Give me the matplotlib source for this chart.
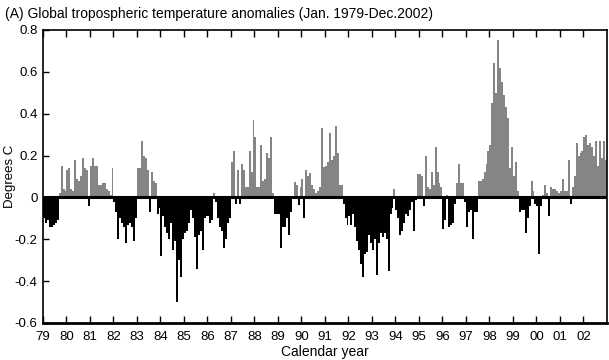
import numpy as np
import matplotlib
matplotlib.use("Agg")
import matplotlib.pyplot as plt

plt.rcParams['font.family'] = ['Liberation Sans', 'DejaVu Sans']

# monthly anomalies (deg C), one list per year
y1979 = [-0.10, -0.12, -0.11, -0.14, -0.14, -0.13, -0.12, -0.11, 0.02, 0.15, 0.04, 0.03]
y1980 = [0.13, 0.14, 0.04, 0.03, 0.18, 0.09, 0.08, 0.10, 0.19, 0.14, 0.13, -0.04]
y1981 = [0.15, 0.19, 0.15, 0.15, 0.06, 0.06, 0.07, 0.07, 0.04, 0.03, 0.01, 0.14]
y1982 = [-0.02, -0.07, -0.20, -0.10, -0.12, -0.14, -0.22, -0.13, -0.12, -0.14, -0.21, -0.10]
y1983 = [0.14, 0.14, 0.27, 0.20, 0.19, 0.13, -0.07, 0.12, 0.08, 0.07, -0.08, -0.05]
y1984 = [-0.28, -0.09, -0.14, -0.17, -0.20, -0.12, -0.25, -0.21, -0.50, -0.30, -0.38, -0.20]
y1985 = [-0.17, -0.16, -0.12, -0.06, -0.10, -0.19, -0.34, -0.18, -0.16, -0.25, -0.10, -0.09]
y1986 = [-0.09, -0.12, -0.11, 0.02, -0.02, -0.10, -0.14, -0.16, -0.24, -0.20, -0.12, -0.10]
y1987 = [0.17, 0.22, -0.03, 0.13, -0.03, 0.16, 0.13, 0.05, 0.05, 0.22, 0.12, 0.37]
y1988 = [0.29, 0.05, 0.05, 0.25, 0.08, 0.09, 0.21, 0.19, 0.29, 0.02, -0.08, -0.08]
y1989 = [-0.08, -0.24, -0.14, -0.14, -0.10, -0.18, -0.07, 0.00, 0.075, 0.06, -0.035, 0.05]
y1990 = [0.09, -0.10, 0.13, 0.10, 0.115, 0.06, 0.04, 0.02, 0.03, 0.05, 0.33, 0.145]
y1991 = [0.15, 0.17, 0.31, 0.18, 0.20, 0.34, 0.21, 0.06, 0.06, -0.03, -0.10, -0.13]
y1992 = [-0.09, -0.13, -0.08, -0.14, -0.21, -0.25, -0.32, -0.38, -0.27, -0.26, -0.18, -0.22]
y1993 = [-0.25, -0.20, -0.37, -0.22, -0.17, -0.19, -0.17, -0.20, -0.35, -0.08, -0.05, 0.04]
y1994 = [-0.06, -0.10, -0.18, -0.16, -0.12, -0.08, -0.09, -0.06, -0.02, -0.16, -0.01, 0.11]
y1995 = [0.11, 0.10, -0.04, 0.20, 0.05, 0.04, 0.12, 0.06, 0.24, 0.12, 0.07, 0.05]
y1996 = [-0.15, -0.11, 0.01, -0.14, -0.13, -0.12, -0.03, 0.07, 0.16, 0.07, 0.07, -0.02]
y1997 = [-0.14, -0.07, -0.06, -0.20, -0.07, -0.07, 0.08, 0.08, 0.09, 0.12, 0.16, 0.22]
y1998 = [0.25, 0.45, 0.64, 0.50, 0.75, 0.62, 0.55, 0.49, 0.43, 0.38, 0.14, 0.24]
y1999 = [0.10, 0.17, 0.03, -0.07, -0.06, -0.06, -0.17, -0.10, -0.04, 0.08, 0.03, -0.03]
y2000 = [-0.04, -0.27, -0.04, 0.01, 0.06, 0.02, -0.09, 0.05, 0.04, 0.04, 0.03, 0.02]
y2001 = [0.03, 0.09, 0.03, 0.03, 0.18, -0.03, 0.05, 0.10, 0.26, 0.20, 0.21, 0.22]
y2002 = [0.29, 0.30, 0.25, 0.26, 0.24, 0.20, 0.27, 0.15, 0.27, 0.19, 0.27, 0.18]

years = list(range(1979, 2003))
year_labels = [f"{y % 100:02d}" for y in years]
y_ticks = [-0.6, -0.4, -0.2, 0, 0.2, 0.4, 0.6, 0.8]
y_tick_labels = ["-0.6", "-0.4", "-0.2", "0", "0.2", "0.4", "0.6", "0.8"]

anom = np.concatenate([y1979, y1980, y1981, y1982, y1983, y1984, y1985, y1986,
                       y1987, y1988, y1989, y1990, y1991, y1992, y1993, y1994,
                       y1995, y1996, y1997, y1998, y1999, y2000, y2001, y2002])
t = 1979 + (np.arange(len(anom)) + 0.5) / 12.0
colors = np.where(anom >= 0, '#858585', '#000000')

fig = plt.figure(figsize=(6.09, 3.6), dpi=100)
ax = fig.add_axes([0.0706, 0.1028, 0.926, 0.8139])

ax.bar(t, anom, width=1 / 12.0, color=colors, linewidth=0)
ax.axhline(0, color='black', lw=2.2)

ax.set_xlim(1979, 2003)
ax.set_ylim(-0.6, 0.8)
ax.set_xticks(years)
ax.set_xticklabels(year_labels)
ax.set_yticks(y_ticks)
ax.set_yticklabels(y_tick_labels)
ax.tick_params(axis='x', direction='in', top=True, length=5, width=1, labelsize=9.5, pad=6)
ax.tick_params(axis='y', direction='in', length=4, width=1, labelsize=9.5, pad=4)
for s in ax.spines.values():
    s.set_linewidth(1.2)
ax.spines['bottom'].set_linewidth(2)

ax.set_xlabel("Calendar year", fontsize=10, labelpad=1)
ax.set_ylabel("Degrees C", fontsize=9.5, labelpad=-1)
fig.text(0.008, 0.962, "(A) Global tropospheric temperature anomalies (Jan. 1979-Dec.2002)",
         fontsize=10, ha='left', va='center')

fig.savefig("out.png", dpi=100)
